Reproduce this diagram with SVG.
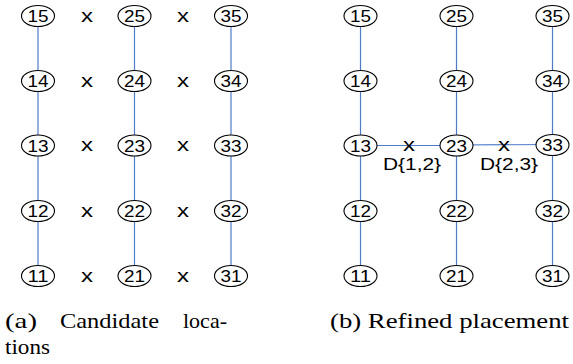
<svg xmlns="http://www.w3.org/2000/svg" width="573" height="364" viewBox="0 0 573 364">
  <style>
    .wire { stroke: #4f7cc9; stroke-width: 1.2; fill: none; }
    .node use { fill: #ffffff; stroke: #000000; stroke-width: 1.1; }
    .node text { font-family: "Liberation Sans", Arial, sans-serif; font-size: 16px; fill: #000000; text-anchor: middle; }
    .cand { font-family: "Liberation Sans", Arial, sans-serif; font-size: 18px; fill: #000000; text-anchor: middle; }
    .lbl { font-family: "Liberation Sans", Arial, sans-serif; font-size: 16px; fill: #000000; text-anchor: middle; }
    .cap { font-family: "Liberation Serif", "Times New Roman", serif; font-size: 21px; fill: #000000; }
  </style>
  <defs>
    <ellipse id="ring" cx="0" cy="0" rx="16.5" ry="10.5"/>
  </defs>

  <!-- connectors -->
  <g id="connectors">
    <!-- panel (a): vertical chains -->
    <line class="wire" x1="38" y1="16" x2="38" y2="276"/>
    <line class="wire" x1="134.5" y1="16" x2="134.5" y2="276"/>
    <line class="wire" x1="231" y1="16" x2="231" y2="276"/>
    <!-- panel (b): vertical chains -->
    <line class="wire" x1="360.5" y1="16" x2="360.5" y2="276"/>
    <line class="wire" x1="456.5" y1="16" x2="456.5" y2="276"/>
    <line class="wire" x1="552.5" y1="16" x2="552.5" y2="276"/>
    <!-- panel (b): links through the chosen points -->
    <line class="wire" x1="360.5" y1="145.5" x2="456.5" y2="145.5"/>
    <line class="wire" x1="456.5" y1="145" x2="552.5" y2="144.5"/>
  </g>

  <!-- panel (a): candidate points between columns -->
  <g id="candidates-a">
    <text class="cand" x="87" y="21.5" textLength="12" lengthAdjust="spacingAndGlyphs">x</text>
    <text class="cand" x="183" y="21.5" textLength="12" lengthAdjust="spacingAndGlyphs">x</text>
    <text class="cand" x="87" y="86.5" textLength="12" lengthAdjust="spacingAndGlyphs">x</text>
    <text class="cand" x="183" y="86.5" textLength="12" lengthAdjust="spacingAndGlyphs">x</text>
    <text class="cand" x="87" y="151" textLength="12" lengthAdjust="spacingAndGlyphs">x</text>
    <text class="cand" x="183" y="151" textLength="12" lengthAdjust="spacingAndGlyphs">x</text>
    <text class="cand" x="87" y="216.5" textLength="12" lengthAdjust="spacingAndGlyphs">x</text>
    <text class="cand" x="183" y="216.5" textLength="12" lengthAdjust="spacingAndGlyphs">x</text>
    <text class="cand" x="87" y="281.5" textLength="12" lengthAdjust="spacingAndGlyphs">x</text>
    <text class="cand" x="183" y="281.5" textLength="12" lengthAdjust="spacingAndGlyphs">x</text>
  </g>

  <!-- panel (b): refined points -->
  <g id="refined-b">
    <text class="cand" x="409" y="151" textLength="12" lengthAdjust="spacingAndGlyphs">x</text>
    <text class="lbl" x="412" y="170" textLength="58" lengthAdjust="spacingAndGlyphs">D{1,2}</text>
    <text class="cand" x="504" y="150.5" textLength="12" lengthAdjust="spacingAndGlyphs">x</text>
    <text class="lbl" x="509" y="170" textLength="58" lengthAdjust="spacingAndGlyphs">D{2,3}</text>
  </g>

  <!-- panel (a) nodes -->
  <g id="a15" class="node" transform="translate(38,16)"><use href="#ring"/><text y="6" textLength="21" lengthAdjust="spacingAndGlyphs">15</text></g>
  <g id="a14" class="node" transform="translate(38,81)"><use href="#ring"/><text y="6" textLength="21" lengthAdjust="spacingAndGlyphs">14</text></g>
  <g id="a13" class="node" transform="translate(38,145.5)"><use href="#ring"/><text y="6" textLength="21" lengthAdjust="spacingAndGlyphs">13</text></g>
  <g id="a12" class="node" transform="translate(38,211)"><use href="#ring"/><text y="6" textLength="21" lengthAdjust="spacingAndGlyphs">12</text></g>
  <g id="a11" class="node" transform="translate(38,276)"><use href="#ring"/><text y="6" textLength="21" lengthAdjust="spacingAndGlyphs">11</text></g>
  <g id="a25" class="node" transform="translate(134.5,16)"><use href="#ring"/><text y="6" textLength="21" lengthAdjust="spacingAndGlyphs">25</text></g>
  <g id="a24" class="node" transform="translate(134.5,81)"><use href="#ring"/><text y="6" textLength="21" lengthAdjust="spacingAndGlyphs">24</text></g>
  <g id="a23" class="node" transform="translate(134.5,145.5)"><use href="#ring"/><text y="6" textLength="21" lengthAdjust="spacingAndGlyphs">23</text></g>
  <g id="a22" class="node" transform="translate(134.5,211)"><use href="#ring"/><text y="6" textLength="21" lengthAdjust="spacingAndGlyphs">22</text></g>
  <g id="a21" class="node" transform="translate(134.5,276)"><use href="#ring"/><text y="6" textLength="21" lengthAdjust="spacingAndGlyphs">21</text></g>
  <g id="a35" class="node" transform="translate(231,16)"><use href="#ring"/><text y="6" textLength="21" lengthAdjust="spacingAndGlyphs">35</text></g>
  <g id="a34" class="node" transform="translate(231,81)"><use href="#ring"/><text y="6" textLength="21" lengthAdjust="spacingAndGlyphs">34</text></g>
  <g id="a33" class="node" transform="translate(231,145.5)"><use href="#ring"/><text y="6" textLength="21" lengthAdjust="spacingAndGlyphs">33</text></g>
  <g id="a32" class="node" transform="translate(231,211)"><use href="#ring"/><text y="6" textLength="21" lengthAdjust="spacingAndGlyphs">32</text></g>
  <g id="a31" class="node" transform="translate(231,276)"><use href="#ring"/><text y="6" textLength="21" lengthAdjust="spacingAndGlyphs">31</text></g>

  <!-- panel (b) nodes -->
  <g id="b15" class="node" transform="translate(360.5,16)"><use href="#ring"/><text y="6" textLength="21" lengthAdjust="spacingAndGlyphs">15</text></g>
  <g id="b14" class="node" transform="translate(360.5,81)"><use href="#ring"/><text y="6" textLength="21" lengthAdjust="spacingAndGlyphs">14</text></g>
  <g id="b13" class="node" transform="translate(360.5,145.5)"><use href="#ring"/><text y="6" textLength="21" lengthAdjust="spacingAndGlyphs">13</text></g>
  <g id="b12" class="node" transform="translate(360.5,211)"><use href="#ring"/><text y="6" textLength="21" lengthAdjust="spacingAndGlyphs">12</text></g>
  <g id="b11" class="node" transform="translate(360.5,276)"><use href="#ring"/><text y="6" textLength="21" lengthAdjust="spacingAndGlyphs">11</text></g>
  <g id="b25" class="node" transform="translate(456.5,16)"><use href="#ring"/><text y="6" textLength="21" lengthAdjust="spacingAndGlyphs">25</text></g>
  <g id="b24" class="node" transform="translate(456.5,81)"><use href="#ring"/><text y="6" textLength="21" lengthAdjust="spacingAndGlyphs">24</text></g>
  <g id="b23" class="node" transform="translate(456.5,145.5)"><use href="#ring"/><text y="6" textLength="21" lengthAdjust="spacingAndGlyphs">23</text></g>
  <g id="b22" class="node" transform="translate(456.5,211)"><use href="#ring"/><text y="6" textLength="21" lengthAdjust="spacingAndGlyphs">22</text></g>
  <g id="b21" class="node" transform="translate(456.5,276)"><use href="#ring"/><text y="6" textLength="21" lengthAdjust="spacingAndGlyphs">21</text></g>
  <g id="b35" class="node" transform="translate(552.5,16)"><use href="#ring"/><text y="6" textLength="21" lengthAdjust="spacingAndGlyphs">35</text></g>
  <g id="b34" class="node" transform="translate(552.5,81)"><use href="#ring"/><text y="6" textLength="21" lengthAdjust="spacingAndGlyphs">34</text></g>
  <g id="b33" class="node" transform="translate(552.5,145)"><use href="#ring"/><text y="6" textLength="21" lengthAdjust="spacingAndGlyphs">33</text></g>
  <g id="b32" class="node" transform="translate(552.5,211)"><use href="#ring"/><text y="6" textLength="21" lengthAdjust="spacingAndGlyphs">32</text></g>
  <g id="b31" class="node" transform="translate(552.5,276)"><use href="#ring"/><text y="6" textLength="21" lengthAdjust="spacingAndGlyphs">31</text></g>

  <!-- captions -->
  <g id="captions">
    <text class="cap" x="5" y="328" textLength="32" lengthAdjust="spacingAndGlyphs">(a)</text>
    <text class="cap" x="60" y="328" textLength="99" lengthAdjust="spacingAndGlyphs">Candidate</text>
    <text class="cap" x="183" y="328" textLength="44" lengthAdjust="spacingAndGlyphs">loca-</text>
    <text class="cap" x="5" y="354" textLength="45" lengthAdjust="spacingAndGlyphs">tions</text>
    <text class="cap" x="330" y="328" textLength="239" lengthAdjust="spacingAndGlyphs">(b) Refined placement</text>
  </g>
</svg>
